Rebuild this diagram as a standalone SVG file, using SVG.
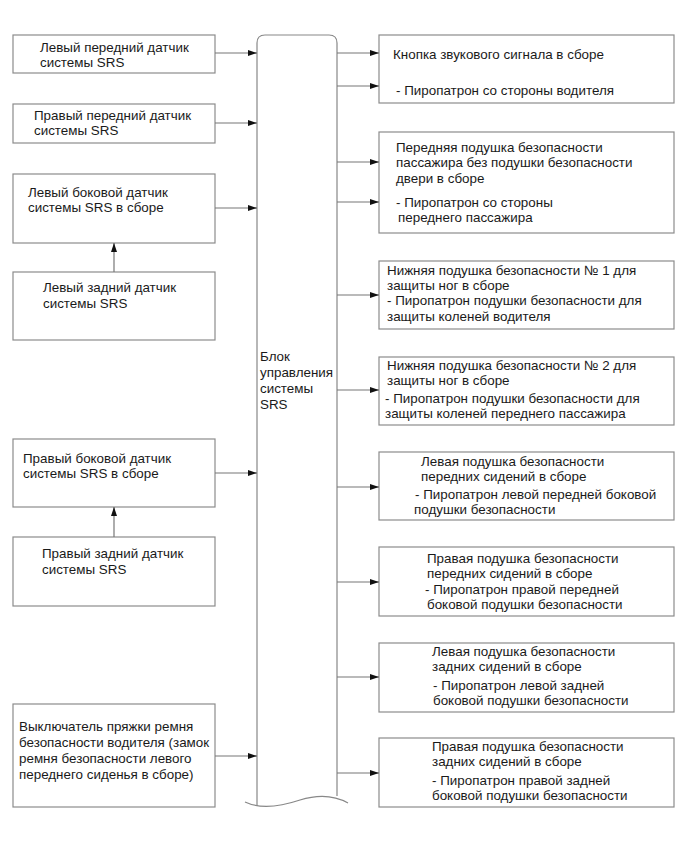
<svg xmlns="http://www.w3.org/2000/svg" width="690" height="853" viewBox="0 0 690 853">
<defs>
<marker id="ah" markerWidth="10" markerHeight="7" refX="9" refY="3" orient="auto" markerUnits="userSpaceOnUse">
<path d="M0,0 L9,3 L0,6 z" fill="#111"/>
</marker>
<style>
.box{fill:#fff;stroke:#8c8c8c;stroke-width:1.2}
.t{font-family:"Liberation Sans",Arial,sans-serif;font-size:13.4px;fill:#1a1a1a}
.c{stroke:#777;stroke-width:1.2;fill:none;marker-end:url(#ah)}
.blk{fill:#fff;stroke:#888;stroke-width:1.2}
</style>
</defs>
<rect width="690" height="853" fill="#fff"/>

<g id="ecu">
<path class="blk" d="M257,806 V43 Q257,35 265,35 H329 Q337,35 337,43 V796"/>
<path d="M245,802 C262,810 282,806 300,800 C316,795 332,794 348,803" fill="none" stroke="#888" stroke-width="1.2"/>
<text class="t" x="260" y="361">Блок</text>
<text class="t" x="260" y="377">управления</text>
<text class="t" x="260" y="393">системы</text>
<text class="t" x="260" y="409">SRS</text>
</g>

<g id="l1"><rect class="box" x="13" y="35" width="202" height="38"/>
<text class="t" x="40" y="52">Левый передний датчик</text><text class="t" x="40" y="67">системы SRS</text></g>
<g id="l2"><rect class="box" x="13" y="104" width="202" height="39"/>
<text class="t" x="34" y="120">Правый передний датчик</text><text class="t" x="34" y="135">системы SRS</text></g>
<g id="l3"><rect class="box" x="13" y="174" width="202" height="69"/>
<text class="t" x="28" y="197">Левый боковой датчик</text><text class="t" x="28" y="212">системы SRS в сборе</text></g>
<g id="l4"><rect class="box" x="13" y="272" width="202" height="68"/>
<text class="t" x="43" y="292">Левый задний датчик</text><text class="t" x="43" y="308">системы SRS</text></g>
<g id="l5"><rect class="box" x="13" y="439" width="202" height="68"/>
<text class="t" x="23" y="463">Правый боковой датчик</text><text class="t" x="23" y="478">системы SRS в сборе</text></g>
<g id="l6"><rect class="box" x="13" y="537" width="202" height="69"/>
<text class="t" x="42" y="558">Правый задний датчик</text><text class="t" x="42" y="574">системы SRS</text></g>
<g id="l7"><rect class="box" x="13" y="704" width="202" height="103"/>
<text class="t" x="19" y="731">Выключатель пряжки ремня</text>
<text class="t" x="19" y="747">безопасности водителя (замок</text>
<text class="t" x="19" y="763">ремня безопасности левого</text>
<text class="t" x="19" y="779">переднего сиденья в сборе)</text></g>

<g id="r1"><rect class="box" x="379" y="35" width="295" height="68"/>
<text class="t" x="393" y="59">Кнопка звукового сигнала в сборе</text>
<text class="t" x="396" y="95">- Пиропатрон со стороны водителя</text></g>
<g id="r2"><rect class="box" x="379" y="132" width="295" height="101"/>
<text class="t" x="396" y="152">Передняя подушка безопасности</text>
<text class="t" x="396" y="167">пассажира без подушки безопасности</text>
<text class="t" x="396" y="183">двери в сборе</text>
<text class="t" x="396" y="207">- Пиропатрон со стороны</text>
<text class="t" x="398" y="222">переднего пассажира</text></g>
<g id="r3"><rect class="box" x="379" y="261" width="295" height="68"/>
<text class="t" x="387" y="275">Нижняя подушка безопасности № 1 для</text>
<text class="t" x="387" y="290">защиты ног в сборе</text>
<text class="t" x="387" y="305">- Пиропатрон подушки безопасности для</text>
<text class="t" x="387" y="321">защиты коленей водителя</text></g>
<g id="r4"><rect class="box" x="379" y="357" width="295" height="68"/>
<text class="t" x="387" y="370">Нижняя подушка безопасности № 2 для</text>
<text class="t" x="387" y="385">защиты ног в сборе</text>
<text class="t" x="385" y="403">- Пиропатрон подушки безопасности для</text>
<text class="t" x="385" y="418">защиты коленей переднего пассажира</text></g>
<g id="r5"><rect class="box" x="379" y="452" width="295" height="68"/>
<text class="t" x="421" y="466">Левая подушка безопасности</text>
<text class="t" x="421" y="481">передних сидений в сборе</text>
<text class="t" x="415" y="499">- Пиропатрон левой передней боковой</text>
<text class="t" x="414" y="514">подушки безопасности</text></g>
<g id="r6"><rect class="box" x="379" y="547" width="295" height="69"/>
<text class="t" x="427" y="563">Правая подушка безопасности</text>
<text class="t" x="427" y="578">передних сидений в сборе</text>
<text class="t" x="425" y="594">- Пиропатрон правой передней</text>
<text class="t" x="427" y="609">боковой подушки безопасности</text></g>
<g id="r7"><rect class="box" x="379" y="643" width="295" height="69"/>
<text class="t" x="432" y="656">Левая подушка безопасности</text>
<text class="t" x="432" y="671">задних сидений в сборе</text>
<text class="t" x="433" y="690">- Пиропатрон левой задней</text>
<text class="t" x="433" y="705">боковой подушки безопасности</text></g>
<g id="r8"><rect class="box" x="379" y="738" width="295" height="69"/>
<text class="t" x="432" y="751">Правая подушка безопасности</text>
<text class="t" x="432" y="766">задних сидений в сборе</text>
<text class="t" x="432" y="785">- Пиропатрон правой задней</text>
<text class="t" x="432" y="800">боковой подушки безопасности</text></g>

<g id="connectors">
<line class="c" x1="215" y1="53" x2="257" y2="53"/>
<line class="c" x1="215" y1="123" x2="257" y2="123"/>
<line class="c" x1="215" y1="208" x2="257" y2="208"/>
<line class="c" x1="215" y1="473" x2="257" y2="473"/>
<line class="c" x1="215" y1="756" x2="257" y2="756"/>
<line class="c" x1="114" y1="272" x2="114" y2="243"/>
<line class="c" x1="114" y1="537" x2="114" y2="507"/>
<line class="c" x1="337" y1="53" x2="379" y2="53"/>
<line class="c" x1="337" y1="86" x2="379" y2="86"/>
<line class="c" x1="337" y1="162" x2="379" y2="162"/>
<line class="c" x1="337" y1="202" x2="379" y2="202"/>
<line class="c" x1="337" y1="295" x2="379" y2="295"/>
<line class="c" x1="337" y1="390" x2="379" y2="390"/>
<line class="c" x1="337" y1="487" x2="379" y2="487"/>
<line class="c" x1="337" y1="582" x2="379" y2="582"/>
<line class="c" x1="337" y1="677" x2="379" y2="677"/>
<line class="c" x1="337" y1="773" x2="379" y2="773"/>
</g>
</svg>
